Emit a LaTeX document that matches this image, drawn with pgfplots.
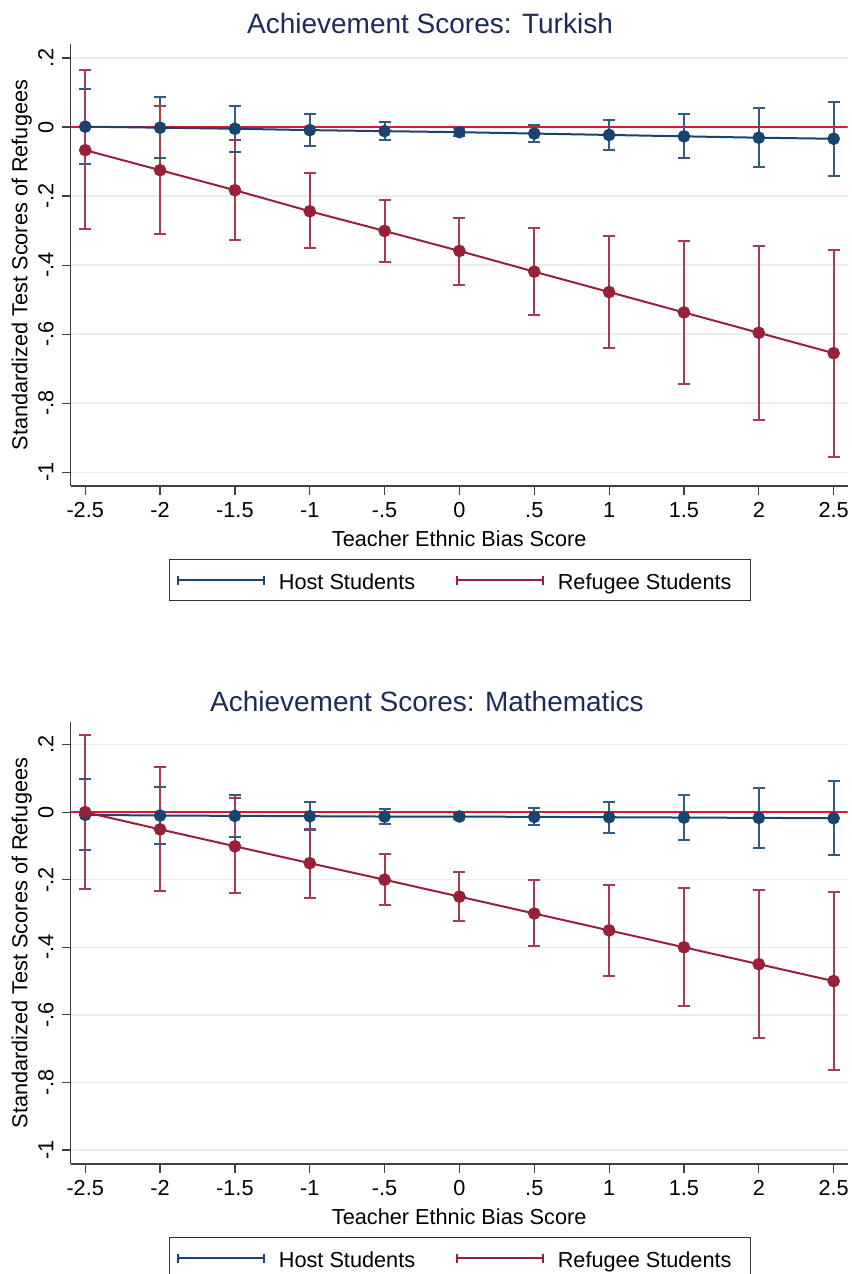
\documentclass[border=0pt]{standalone}
\usepackage{fontspec}
\setmainfont{Liberation Sans}
\usepackage{pgfplots}
\pgfplotsset{compat=1.18}
\usepackage{pgfplotstable}

\definecolor{hostc}{HTML}{1A4470}
\definecolor{refc}{HTML}{98213A}
\definecolor{zeroc}{HTML}{D91A2F}
\definecolor{gridc}{HTML}{E6EFF0}
\definecolor{titlec}{HTML}{1E2A5A}

% ---------- Turkish panel: point estimates ----------
\pgfplotstableread{
x y
-2.5 0.001
-2.0 -0.002
-1.5 -0.005
-1.0 -0.009
-0.5 -0.012
0.0 -0.015
0.5 -0.019
1.0 -0.023
1.5 -0.027
2.0 -0.031
2.5 -0.034
}\tophost
\pgfplotstableread{
x y
-2.5 -0.067
-2.0 -0.125
-1.5 -0.183
-1.0 -0.244
-0.5 -0.301
0.0 -0.359
0.5 -0.419
1.0 -0.478
1.5 -0.537
2.0 -0.596
2.5 -0.655
}\topref
% Turkish panel: confidence intervals (upper, lower, break)
\pgfplotstableread{
x y
-2.5 0.111
-2.5 -0.106
-2.5 nan
-2.0 0.086
-2.0 -0.089
-2.0 nan
-1.5 0.062
-1.5 -0.071
-1.5 nan
-1.0 0.037
-1.0 -0.055
-1.0 nan
-0.5 0.015
-0.5 -0.039
-0.5 nan
0.0 -0.004
0.0 -0.026
0.0 nan
0.5 0.006
0.5 -0.044
0.5 nan
1.0 0.021
1.0 -0.068
1.0 nan
1.5 0.038
1.5 -0.091
1.5 nan
2.0 0.056
2.0 -0.116
2.0 nan
2.5 0.073
2.5 -0.141
}\tophostci
\pgfplotstableread{
x y
-2.5 0.164
-2.5 -0.294
-2.5 nan
-2.0 0.061
-2.0 -0.309
-2.0 nan
-1.5 -0.039
-1.5 -0.326
-1.5 nan
-1.0 -0.132
-1.0 -0.351
-1.0 nan
-0.5 -0.210
-0.5 -0.391
-0.5 nan
0.0 -0.263
0.0 -0.458
0.0 nan
0.5 -0.293
0.5 -0.544
0.5 nan
1.0 -0.315
1.0 -0.641
1.0 nan
1.5 -0.330
1.5 -0.743
1.5 nan
2.0 -0.344
2.0 -0.848
2.0 nan
2.5 -0.356
2.5 -0.955
}\toprefci

% ---------- Mathematics panel: point estimates ----------
\pgfplotstableread{
x y
-2.5 -0.008
-2.0 -0.010
-1.5 -0.011
-1.0 -0.012
-0.5 -0.013
0.0 -0.013
0.5 -0.014
1.0 -0.015
1.5 -0.016
2.0 -0.017
2.5 -0.018
}\bothost
\pgfplotstableread{
x y
-2.5 0.000
-2.0 -0.051
-1.5 -0.101
-1.0 -0.151
-0.5 -0.200
0.0 -0.250
0.5 -0.300
1.0 -0.350
1.5 -0.400
2.0 -0.450
2.5 -0.500
}\botref
% Mathematics panel: confidence intervals
\pgfplotstableread{
x y
-2.5 0.097
-2.5 -0.113
-2.5 nan
-2.0 0.074
-2.0 -0.094
-2.0 nan
-1.5 0.052
-1.5 -0.074
-1.5 nan
-1.0 0.030
-1.0 -0.054
-1.0 nan
-0.5 0.009
-0.5 -0.035
-0.5 nan
0.0 -0.005
0.0 -0.021
0.0 nan
0.5 0.011
0.5 -0.039
0.5 nan
1.0 0.031
1.0 -0.061
1.0 nan
1.5 0.051
1.5 -0.083
1.5 nan
2.0 0.071
2.0 -0.105
2.0 nan
2.5 0.091
2.5 -0.127
}\bothostci
\pgfplotstableread{
x y
-2.5 0.228
-2.5 -0.227
-2.5 nan
-2.0 0.134
-2.0 -0.233
-2.0 nan
-1.5 0.042
-1.5 -0.240
-1.5 nan
-1.0 -0.049
-1.0 -0.253
-1.0 nan
-0.5 -0.125
-0.5 -0.275
-0.5 nan
0.0 -0.177
0.0 -0.323
0.0 nan
0.5 -0.202
0.5 -0.397
0.5 nan
1.0 -0.215
1.0 -0.484
1.0 nan
1.5 -0.224
1.5 -0.575
1.5 nan
2.0 -0.230
2.0 -0.669
2.0 nan
2.5 -0.235
2.5 -0.764
}\botrefci

\pgfplotsset{
  every axis title shift=0pt,
  panel/.style={
    scale only axis, width=777bp, height=442bp,
    xmin=-2.597, xmax=2.594,
    axis x line=bottom, axis y line=left,
    axis line style={-, line width=1.2bp, color=black!75},
    tick align=outside, major tick length=8.5bp,
    tick style={line width=1.2bp, color=black!75},
    xtick={-2.5,-2,-1.5,-1,-0.5,0,0.5,1,1.5,2,2.5},
    xticklabels={-2.5,-2,-1.5,-1,-.5,0,.5,1,1.5,2,2.5},
    ytick={-1,-0.8,-0.6,-0.4,-0.2,0,0.2},
    yticklabels={-1,-.8,-.6,-.4,-.2,0,.2},
    ymajorgrids, grid style={gridc, line width=1.5bp},
    ticklabel style={font=\fontsize{21.7bp}{25bp}\selectfont},
    xticklabel style={anchor=base, inner sep=0pt, yshift=-23.2bp},
    yticklabel style={xshift=-8.9bp, rotate=90, anchor=base, inner sep=0pt},
    label style={font=\fontsize{21.7bp}{25bp}\selectfont},
    xlabel={Teacher Ethnic Bias Score},
    ylabel={Standardized Test Scores of Refugees},
    xlabel style={at={(axis description cs:0.5,0)}, anchor=base, yshift=-60.7bp, inner sep=0pt},
    ylabel style={at={(axis description cs:-0.0556,0.5)}, anchor=base, inner sep=0pt},
    title style={anchor=base, yshift=10.7bp, font=\fontsize{28bp}{32bp}\selectfont, color=titlec, inner sep=0pt},
    legend columns=2, legend cell align=left,
    legend style={at={(axis description cs:0.1265,-0.1652)}, anchor=north west,
      draw=black!80, line width=1.2bp, inner xsep=7.7bp, inner ysep=10.7bp,
      font=\fontsize{21.7bp}{25bp}\selectfont,
      nodes={inner sep=0pt, text height=19.6bp, text depth=0pt},
      /tikz/every odd column/.append style={column sep=14bp},
      /tikz/every even column/.append style={column sep=41bp}},
  },
  hostplot/.style={hostc, line width=2bp, mark=*, mark size=5.3bp,
    mark options={fill=hostc, draw=hostc, line width=2bp}},
  refplot/.style={refc, line width=2bp, mark=*, mark size=5.3bp,
    mark options={fill=refc, draw=refc, line width=2bp}},
  hostci/.style={hostc!88!white, line width=2bp, unbounded coords=jump,
    mark=-, mark size=6bp, mark options={line width=2bp}},
  refci/.style={refc!88!white, line width=2bp, unbounded coords=jump,
    mark=-, mark size=6bp, mark options={line width=2bp}},
  hostleg/.style={legend image code/.code={
    \draw[hostc, line width=1.6bp] (0bp,0bp) -- (86bp,0bp) (0bp,-4.5bp) -- (0bp,4.5bp) (86bp,-4.5bp) -- (86bp,4.5bp);}},
  refleg/.style={legend image code/.code={
    \draw[refc, line width=1.6bp] (0bp,0bp) -- (86bp,0bp) (0bp,-4.5bp) -- (0bp,4.5bp) (86bp,-4.5bp) -- (86bp,4.5bp);}},
}

\begin{document}
\begin{tikzpicture}
\path[use as bounding box] (0,0) rectangle (852bp,-1274bp);

\begin{axis}[panel, at={(70.7bp,-486bp)}, anchor=south west,
  ymin=-1.0397, ymax=0.2404,
  title={Achievement Scores: Turkish},
  title style={at={(axis description cs:0.4624,1)}}]
\addplot[zeroc, line width=2bp, forget plot] coordinates {(-2.597,0) (2.594,0)};
\addplot[hostci, forget plot] table[x=x, y=y] {\tophostci};
\addplot[hostplot, forget plot] table[x=x, y=y] {\tophost};
\addplot[refci, forget plot] table[x=x, y=y] {\toprefci};
\addplot[refplot, forget plot] table[x=x, y=y] {\topref};
\addlegendimage{hostleg}
\addlegendentry{Host Students}
\addlegendimage{refleg}
\addlegendentry{Refugee Students\hspace*{11bp}}
\end{axis}

\begin{axis}[panel, at={(70.7bp,-1164bp)}, anchor=south west,
  ymin=-1.0415, ymax=0.2668,
  title={Achievement Scores: Mathematics},
  title style={at={(axis description cs:0.4585,1)}}]
\addplot[zeroc, line width=2bp, forget plot] coordinates {(-2.597,0) (2.594,0)};
\addplot[hostci, forget plot] table[x=x, y=y] {\bothostci};
\addplot[hostplot, forget plot] table[x=x, y=y] {\bothost};
\addplot[refci, forget plot] table[x=x, y=y] {\botrefci};
\addplot[refplot, forget plot] table[x=x, y=y] {\botref};
\addlegendimage{hostleg}
\addlegendentry{Host Students}
\addlegendimage{refleg}
\addlegendentry{Refugee Students\hspace*{11bp}}
\end{axis}
\end{tikzpicture}
\end{document}
